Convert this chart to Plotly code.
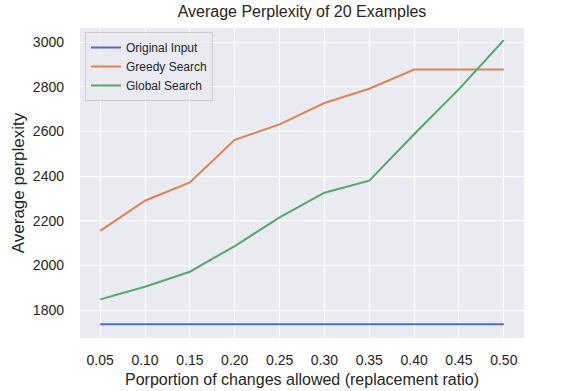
import plotly.graph_objects as go

ratios = [0.05, 0.10, 0.15, 0.20, 0.25, 0.30, 0.35, 0.40, 0.45, 0.50]
tick_labels = ["0.05", "0.10", "0.15", "0.20", "0.25", "0.30", "0.35", "0.40", "0.45", "0.50"]
y_ticks = [1800, 2000, 2200, 2400, 2600, 2800, 3000]
original_input = [1737] * 10
greedy_search = [2155, 2290, 2372, 2563, 2632, 2728, 2792, 2878, 2878, 2878]
global_search = [1848, 1905, 1972, 2087, 2215, 2326, 2380, 2588, 2790, 3010]

fig = go.Figure()
series = [
    ("Original Input", original_input, "#4C72B0"),
    ("Greedy Search", greedy_search, "#DD8452"),
    ("Global Search", global_search, "#55A868"),
]
for name, vals, col in series:
    fig.add_trace(go.Scatter(x=ratios, y=vals, mode="lines", name=name,
                             line=dict(color=col, width=2)))

W, H = 570, 391
font_family = "Liberation Sans, Arial, sans-serif"
fig.update_layout(
    width=W, height=H,
    margin=dict(l=80, r=46, t=28, b=53, autoexpand=False),
    paper_bgcolor="white",
    plot_bgcolor="#EAEAF2",
    font=dict(family=font_family, size=14, color="#262626"),
    title=dict(text="Average Perplexity of 20 Examples", x=(80 + 524) / 2 / W, xanchor="center",
               y=1 - 11 / H, yanchor="middle", font=dict(size=16, color="#262626")),
    showlegend=True,
    legend=dict(x=5 / 444, y=1 - 4 / 310, xanchor="left", yanchor="top",
                bgcolor="rgba(234,234,242,0.8)", bordercolor="#CCCCCC", borderwidth=1,
                font=dict(size=12, color="#262626"), tracegroupgap=0,
                itemwidth=30),
    xaxis=dict(range=[0.0275, 0.5225], tickvals=ratios, ticktext=tick_labels,
               showgrid=True, gridcolor="white", gridwidth=1, zeroline=False,
               showline=False, ticks="", tickfont=dict(size=14, color="#262626"),
               automargin=True, ticklabelstandoff=12,
               title=dict(text="Porportion of changes allowed (replacement ratio)",
                          font=dict(size=16, color="#262626"), standoff=6)),
    yaxis=dict(range=[1675, 3064], tickvals=y_ticks,
               showgrid=True, gridcolor="white", gridwidth=1, zeroline=False,
               showline=False, ticks="", tickfont=dict(size=14, color="#262626"),
               automargin=True, ticklabelstandoff=15,
               title=dict(text="Average perplexity", font=dict(size=17, color="#262626"),
                          standoff=3)),
)

fig.write_html("out.html", config={"displayModeBar": False},
               post_script="document.body.style.margin='0';")
